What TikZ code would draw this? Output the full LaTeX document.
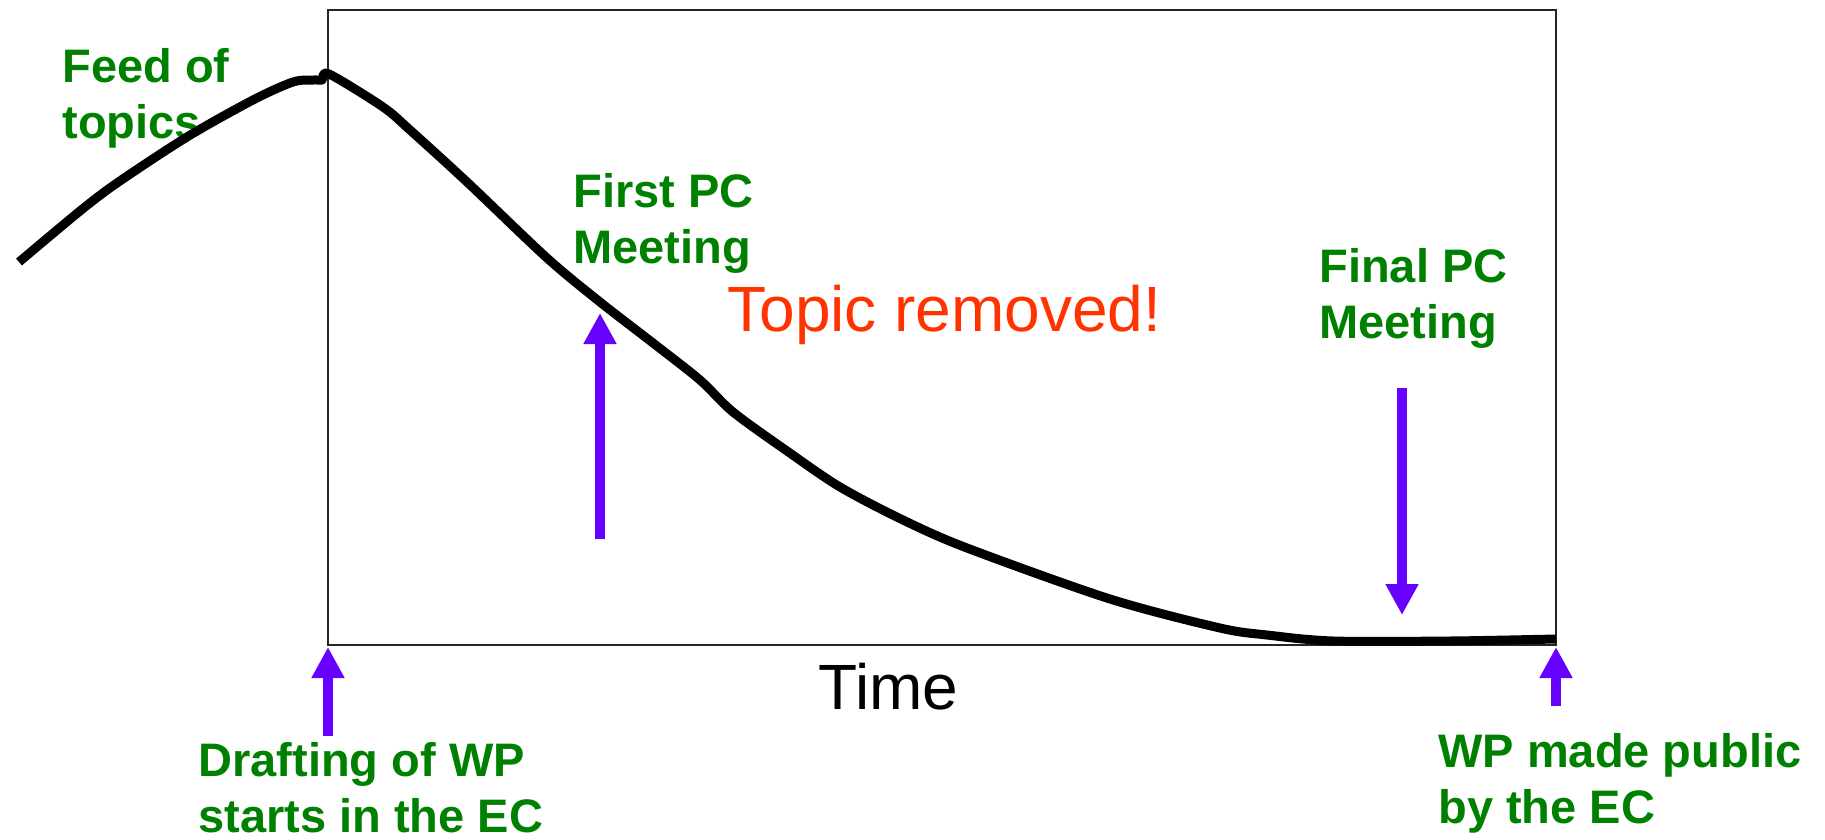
\documentclass[tikz,border=0pt]{standalone}
\usepackage{fontspec}
\setmainfont{Liberation Sans}
\usepackage{xcolor}
\usepackage{tikz}
\usetikzlibrary{arrows.meta}

\definecolor{pcgreen}{HTML}{008000}
\definecolor{eventviolet}{HTML}{6600FF}
\definecolor{removedred}{HTML}{FF3300}

\tikzset{
  greenlabel/.style={text=pcgreen, font=\fontsize{23.5}{28}\selectfont\bfseries,
    align=left, anchor=north west, inner sep=0pt},
  bigtext/.style={font=\fontsize{32}{38}\selectfont, anchor=base west, inner sep=0pt},
  eventarrow/.style={draw=eventviolet, line width=5pt,
    -{Triangle[length=15.5pt,width=15.5pt]}}
}

\begin{document}
\begin{tikzpicture}[x=0.5pt, y=-0.5pt]
    \useasboundingbox (0,0) rectangle (1825,840);

    % Labels
    \node[greenlabel] (feed) at (62,48) {Feed of\\topics};
    \node[greenlabel] (firstpc) at (573,173) {First PC\\Meeting};
    \node[greenlabel] (finalpc) at (1319,248) {Final PC\\Meeting};
    \node[greenlabel] (drafting) at (198,742) {Drafting of WP\\starts in the EC};
    \node[greenlabel] (public) at (1438,733) {WP made public\\by the EC};
    \node[bigtext, text=removedred] (removed) at (727,331) {Topic removed!};
    \node[bigtext] (time) at (818,709) {Time};

    % Time frame
    \coordinate (tl) at (328,10);
    \coordinate (br) at (1556,645);
    \draw[line width=0.8pt, black!85] (tl) rectangle (br);

    % Number of topics over time
    \draw[line width=4.5pt, line join=round] plot[smooth, tension=0.5] coordinates {
      (19,262) (80,211) (117,183) (187,137) (253,100) (293,82) (314,80) (322,80)
      (329,74) (383,107) (410,130) (467,182) (547,258) (600,302) (653,343)
      (700,380) (733,412) (787,451) (840,487) (903,520) (967,548) (1110,599)
      (1220,628) (1267,635) (1333,641) (1450,641) (1556,639)};

    % Events
    \coordinate (firstfoot) at (600,539);
    \coordinate (firsttip) at (600,313);
    \coordinate (finalfoot) at (1402,388);
    \coordinate (finaltip) at (1402,615);
    \coordinate (draftfoot) at (328,736);
    \coordinate (drafttip) at (328,647);
    \coordinate (pubfoot) at (1556,706);
    \coordinate (pubtip) at (1556,647);
    \draw[eventarrow] (firstfoot) -- (firsttip);
    \draw[eventarrow] (finalfoot) -- (finaltip);
    \draw[eventarrow] (draftfoot) -- (drafttip);
    \draw[eventarrow] (pubfoot) -- (pubtip);
\end{tikzpicture}
\end{document}
